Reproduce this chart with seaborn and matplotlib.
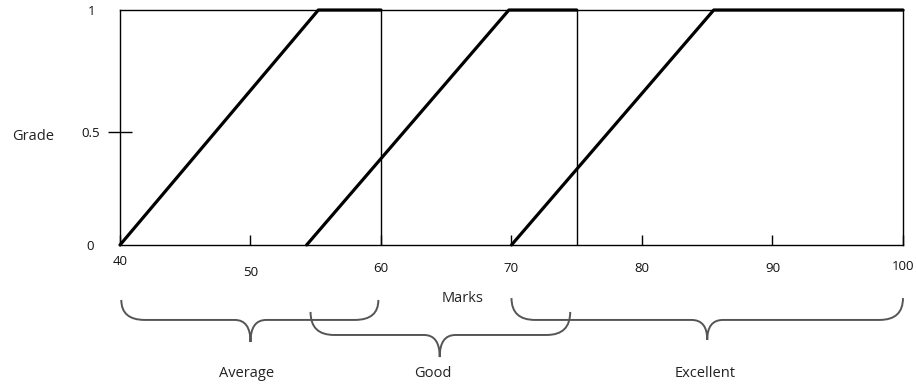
import seaborn as sns
import matplotlib.pyplot as plt
import numpy as np
import pandas as pd
from matplotlib.path import Path
from matplotlib.patches import PathPatch

sns.set_style("ticks", rc={'axes.facecolor': 'white', 'figure.facecolor': 'white'})
plt.rcParams['font.family'] = ['Open Sans', 'DejaVu Sans']

# membership functions (marks -> grade)
avg_x = [40, 55.2, 60]
avg_y = [0, 1, 1]
good_x = [54.3, 69.8, 75]
good_y = [0, 1, 1]
exc_x = [70, 85.5, 100]
exc_y = [0, 1, 1]
grade_names = ["Average", "Good", "Excellent"]

cutoffs = [60, 75]

x_ticks = [40, 50, 60, 70, 80, 90, 100]
# the hand-drawn 0.5 mark sits slightly below the middle
y_ticks = [0, 0.48, 1]
y_tick_labels = ["0", "0.5", "1"]

# braces under the axis
brace_start = [40.1, 54.6, 70]
brace_end = [59.8, 74.5, 100]
brace_tip = [50, 64.5, 85]
brace_label_x = [49.7, 64, 84.8]

df = pd.DataFrame({
    "marks": avg_x + good_x + exc_x,
    "grade": avg_y + good_y + exc_y,
    "set": [grade_names[0]] * 3 + [grade_names[1]] * 3 + [grade_names[2]] * 3,
})

fig = plt.figure(figsize=(9.16, 3.88), dpi=100)
ax = fig.add_axes([0.131, 0.3686, 0.8548, 0.6056])

sns.lineplot(data=df, x="marks", y="grade", hue="set", palette=["black"] * 3,
             sort=False, estimator=None, linewidth=2.3, legend=False, ax=ax, clip_on=False)
for c in cutoffs:
    ax.plot([c, c], [0, 1], color="black", lw=1)

ax.set_xlim(40, 100)
ax.set_ylim(0, 1)
for s in ax.spines.values():
    s.set_color("black")
    s.set_linewidth(1)

ax.set_xticks(x_ticks)
ax.set_xticklabels([str(t) for t in x_ticks], fontsize=9.5, color="#111111")
ax.tick_params(axis="x", direction="in", length=7, width=1, color="black")
for tick, pad in zip(ax.xaxis.get_major_ticks(), [7.5, 15, 12.5, 12, 12, 12.5, 10.5]):
    tick.set_pad(pad)

ax.set_yticks(y_ticks)
ax.set_yticklabels(y_tick_labels, fontsize=9.5, color="#111111")
ax.tick_params(axis="y", direction="inout", length=17, width=1, color="black")
for tick, pad in zip(ax.yaxis.get_major_ticks(), [10, 6, 9]):
    tick.set_pad(pad)
ax.yaxis.get_major_ticks()[0].tick1line.set_visible(False)
ax.yaxis.get_major_ticks()[2].tick1line.set_visible(False)

ax.set_xlabel("Marks", fontsize=10.5, color="#222222")
ax.xaxis.set_label_coords(0.438, -0.226)
ax.xaxis.label.set_va("center")
ax.set_ylabel("Grade", fontsize=10.5, rotation=0, va="center", ha="center", color="#222222")
ax.yaxis.set_label_coords(-0.111, 0.46)

# braces
tops = [-0.234, -0.285, -0.226]
mids = [-0.319, -0.383, -0.319]
tips = [-0.413, -0.477, -0.404]
for x0, x1, xc, yt, ym, yp in zip(brace_start, brace_end, brace_tip, tops, mids, tips):
    r = 1.8
    s = 1.2
    verts = [(x0, yt), (x0, ym), (x0 + r, ym),
             (xc - s, ym),
             (xc, ym), (xc, yp),
             (xc, ym), (xc + s, ym),
             (x1 - r, ym),
             (x1, ym), (x1, yt)]
    codes = [Path.MOVETO, Path.CURVE3, Path.CURVE3,
             Path.LINETO,
             Path.CURVE3, Path.CURVE3,
             Path.CURVE3, Path.CURVE3,
             Path.LINETO,
             Path.CURVE3, Path.CURVE3]
    ax.add_patch(PathPatch(Path(verts, codes), fill=False, edgecolor="#555555",
                           lw=1.4, clip_on=False))

for name, lx in zip(grade_names, brace_label_x):
    ax.text(lx, -0.549, name, ha="center", va="center", fontsize=10.5, color="#222222")

fig.savefig("out.png", dpi=100)
